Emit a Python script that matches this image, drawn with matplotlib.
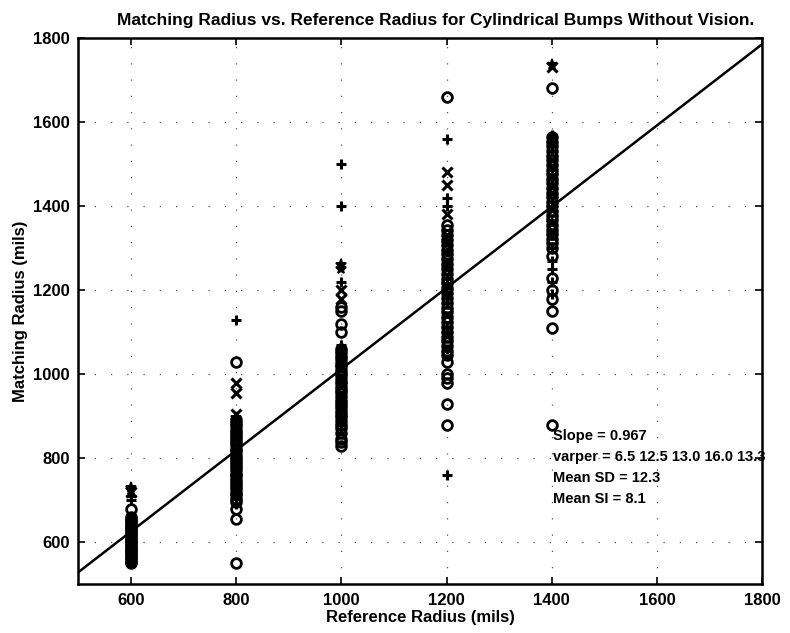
import matplotlib.pyplot as plt
import numpy as np

plt.rcParams['font.family'] = ['Liberation Sans', 'DejaVu Sans']

ref_radius = [600, 800, 1000, 1200, 1400]

# matching radius readings per reference radius, split by marker symbol
match_o = [
    [550, 553, 558, 562, 567, 571, 576, 580, 584, 589, 593, 597, 602, 606, 611, 615, 619, 624,
     628, 633, 637, 641, 646, 650, 655, 660, 678],
    [550, 655, 680, 695, 703, 712, 718, 726, 735, 741, 748, 757, 763, 772, 779, 786, 794, 801,
     808, 816, 823, 831, 838, 846, 853, 861, 868, 876, 884, 891, 1030],
    [830, 838, 845, 860, 872, 880, 889, 897, 905, 913, 921, 929, 937, 946, 954, 962, 970, 978,
     986, 995, 1003, 1011, 1019, 1027, 1036, 1044, 1052, 1060, 1100, 1120, 1150, 1160],
    [880, 930, 980, 990, 1000, 1030, 1045, 1055, 1066, 1078, 1089, 1101, 1112, 1124, 1135,
     1147, 1158, 1170, 1181, 1193, 1204, 1216, 1227, 1239, 1250, 1262, 1273, 1285, 1296, 1308,
     1319, 1331, 1342, 1354, 1660],
    [880, 1110, 1150, 1180, 1200, 1230, 1280, 1300, 1311, 1322, 1333, 1344, 1355, 1366, 1377,
     1388, 1399, 1410, 1421, 1432, 1443, 1454, 1465, 1476, 1487, 1498, 1509, 1520, 1531, 1542,
     1553, 1564, 1680],
]
match_plus = [
    [560, 590, 620, 700, 710],
    [690, 730, 770, 810, 850, 890, 1130],
    [870, 910, 950, 990, 1030, 1070, 1220, 1400, 1500],
    [760, 1060, 1110, 1170, 1230, 1290, 1400, 1420, 1560],
    [1190, 1220, 1250, 1270, 1300, 1330, 1410, 1450, 1490, 1530, 1570],
]
match_x = [
    [570, 610, 640, 720],
    [710, 750, 790, 830, 870, 905, 955, 980],
    [890, 930, 970, 1010, 1050, 1180, 1200],
    [1090, 1140, 1210, 1270, 1330, 1380, 1450, 1480],
    [1340, 1390, 1430, 1470, 1510, 1730],
]
match_star = [
    [725, 728],
    [745, 795, 845, 895],
    [1015, 1045, 1250, 1260],
    [1190, 1250, 1310],
    [1360, 1550, 1735],
]

slope = 0.967
intercept = 45
stats_text = ['Slope = 0.967',
              'varper = 6.5 12.5 13.0 16.0 13.3',
              'Mean SD = 12.3',
              'Mean SI = 8.1']

fig = plt.figure(figsize=(7.9, 6.33), dpi=100)
ax = fig.add_axes([0.099, 0.077, 0.866, 0.863])

for r, ys in zip(ref_radius, match_o):
    ax.plot([r] * len(ys), ys, 'o', ms=7, mfc='none', mec='black', mew=2.0)
for r, ys in zip(ref_radius, match_plus):
    ax.plot([r] * len(ys), ys, '+', ms=6.5, color='black', mew=2.2)
for r, ys in zip(ref_radius, match_x):
    ax.plot([r] * len(ys), ys, 'x', ms=6.5, color='black', mew=2.2)
for r, ys in zip(ref_radius, match_star):
    ax.plot([r] * len(ys), ys, '*', ms=8, color='black', mew=1.4)

xl = np.array([500, 1800])
ax.plot(xl, slope * xl + intercept, color='black', lw=1.8)

ax.set_xlim(500, 1800)
ax.set_ylim(500, 1800)
ax.set_xticks([600, 800, 1000, 1200, 1400, 1600, 1800])
ax.set_yticks([600, 800, 1000, 1200, 1400, 1600, 1800])
ax.grid(True, color='#555555', linestyle=(0, (1, 12)), lw=0.9)
ax.tick_params(direction='in', top=True, right=True, length=5, width=1.2,
               labelsize=12, pad=6)
for lab in ax.get_xticklabels() + ax.get_yticklabels():
    lab.set_fontweight('bold')
for s in ax.spines.values():
    s.set_linewidth(1.8)

for i, t in enumerate(stats_text):
    ax.text(1402, 852 - 50 * i, t, fontsize=10.5, fontweight='bold', va='center', ha='left')

ax.set_title('Matching Radius vs. Reference Radius for Cylindrical Bumps Without Vision.',
             fontsize=12.5, fontweight='bold', pad=9, x=0.522)
ax.set_xlabel('Reference Radius (mils)', fontsize=12, fontweight='bold', labelpad=2)
ax.set_ylabel('Matching Radius (mils)', fontsize=12, fontweight='bold', labelpad=4)

fig.savefig('out.png', dpi=100)
